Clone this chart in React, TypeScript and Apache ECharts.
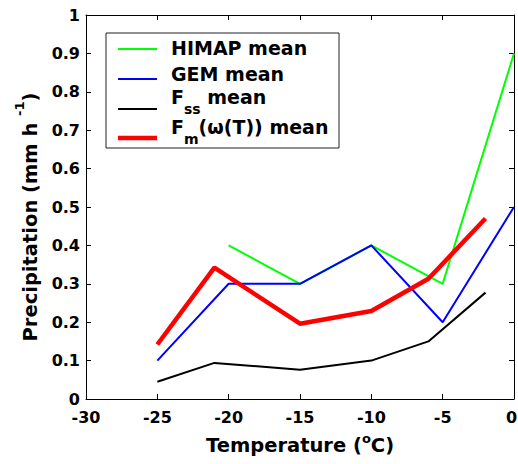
import React, { useEffect, useRef } from "react";
import * as echarts from "echarts";

// ---- data ----
const himapX = [-20, -15, -10, -5, 0];
const himapY = [0.4, 0.3, 0.4, 0.3, 0.9];
const gemX = [-25, -20, -15, -10, -5, 0];
const gemY = [0.1, 0.3, 0.3, 0.4, 0.2, 0.5];
const fssX = [-25, -21, -15, -10, -6, -2];
const fssY = [0.045, 0.094, 0.076, 0.1, 0.15, 0.277];
const fmX = [-25, -21, -15, -10, -6, -2];
const fmY = [0.142, 0.342, 0.196, 0.229, 0.313, 0.47];
const seriesNames = ["HIMAP mean", "GEM mean", "Fss mean", "Fm(ω(T)) mean"];
const legendLabels = [
  "{a|HIMAP mean}",
  "{a|GEM mean}",
  "{a|F}{sub|ss}{a| mean}",
  "{a|F}{sub|m}{a|(ω(T)) mean}",
];
const xTitle = "{a|Temperature (}{sup|o}{a|C)}";
const yTitle = "{a|Precipitation (mm h }{sup|-1}{a|)}";

const FONT = "DejaVu Sans";

const zip = (xs: number[], ys: number[]) => xs.map((x, i) => [x, ys[i]]);

export default function App() {
  const ref = useRef<HTMLDivElement>(null);
  useEffect(() => {
    if (!ref.current) return;
    const chart = echarts.init(ref.current, undefined, { renderer: "svg" });
    const axisLine = {
      show: true,
      onZero: false,
      lineStyle: { color: "#000", width: 1 },
    };
    const tick = { show: true, inside: true, length: 5, lineStyle: { color: "#000" } };
    const labelStyle = {
      fontFamily: FONT,
      fontWeight: "bold" as const,
      fontSize: 16,
      color: "#000",
    };
    const titleRich = {
      a: { fontFamily: FONT, fontWeight: "bold", fontSize: 19.5, color: "#000" },
    };
    const legendRich = {
      a: { fontFamily: FONT, fontWeight: "bold", fontSize: 19, color: "#000" },
      sub: {
        fontFamily: FONT,
        fontWeight: "bold",
        fontSize: 14,
        color: "#000",
        padding: [23, 0, 0, 0],
      },
    };
    const legendColors = ["#00FF00", "#0000FF", "#000000", "#FF0000"];
    const legendWidths = [2, 2, 2, 4.5];
    const legendLineY = [49, 79, 109, 138];
    const legendTextY = [48, 74, 97, 127];

    const graphics: any[] = [
      {
        type: "rect",
        shape: { x: 106, y: 33, width: 233, height: 115 },
        style: { fill: "#fff", stroke: "#222", lineWidth: 1 },
        z: 10,
      },
    ];
    legendLabels.forEach((lab, i) => {
      graphics.push({
        type: "line",
        shape: { x1: 118, y1: legendLineY[i], x2: 157, y2: legendLineY[i] },
        style: { stroke: legendColors[i], lineWidth: legendWidths[i] },
        z: 11,
      });
      graphics.push({
        type: "text",
        x: 171,
        y: legendTextY[i],
        style: {
          text: lab,
          rich: legendRich,
          verticalAlign: "middle",
          align: "left",
        },
        z: 11,
      });
    });

    chart.setOption({
      animation: false,
      backgroundColor: "#fff",
      grid: {
        left: 86,
        right: 4,
        top: 15,
        bottom: 65,
        containLabel: false,
        outerBoundsMode: "none",
      },
      xAxis: [
        {
          type: "value",
          min: -30,
          max: 0,
          interval: 5,
          position: "bottom",
          axisLine,
          axisTick: tick,
          splitLine: { show: false },
          axisLabel: {
            ...labelStyle,
            margin: 10,
            formatter: (v: number) => (v === 0 ? "{e|0}" : String(v)),
            rich: { e: { ...labelStyle, padding: [0, 5, 0, 0] } },
          },
          name: xTitle,
          nameLocation: "middle",
          nameGap: 33,
          nameTextStyle: {
            rich: {
              ...titleRich,
              sup: {
                fontFamily: FONT,
                fontWeight: "bold",
                fontSize: 13,
                color: "#000",
                padding: [0, 0, 14, 0],
              },
            },
          },
        },
        {
          type: "value",
          min: -30,
          max: 0,
          interval: 5,
          position: "top",
          axisLine,
          axisTick: tick,
          splitLine: { show: false },
          axisLabel: { show: false },
        },
      ],
      yAxis: [
        {
          type: "value",
          min: 0,
          max: 1,
          interval: 0.1,
          position: "left",
          axisLine,
          axisTick: tick,
          splitLine: { show: false },
          axisLabel: { ...labelStyle, margin: 6 },
          name: yTitle,
          nameLocation: "middle",
          nameGap: 34,
          nameTextStyle: {
            padding: [0, 20, 0, 0],
            rich: {
              ...titleRich,
              sup: {
                fontFamily: FONT,
                fontWeight: "bold",
                fontSize: 13,
                color: "#000",
                padding: [0, 0, 22, 0],
              },
            },
          },
        },
        {
          type: "value",
          min: 0,
          max: 1,
          interval: 0.1,
          position: "right",
          axisLine,
          axisTick: tick,
          splitLine: { show: false },
          axisLabel: { show: false },
        },
      ],
      series: [
        {
          name: seriesNames[0],
          type: "line",
          data: zip(himapX, himapY),
          showSymbol: false,
          lineStyle: { color: "#00FF00", width: 2 },
          itemStyle: { color: "#00FF00" },
        },
        {
          name: seriesNames[1],
          type: "line",
          data: zip(gemX, gemY),
          showSymbol: false,
          lineStyle: { color: "#0000FF", width: 2 },
          itemStyle: { color: "#0000FF" },
        },
        {
          name: seriesNames[2],
          type: "line",
          data: zip(fssX, fssY),
          showSymbol: false,
          lineStyle: { color: "#000000", width: 2 },
          itemStyle: { color: "#000000" },
        },
        {
          name: seriesNames[3],
          type: "line",
          data: zip(fmX, fmY),
          showSymbol: false,
          lineStyle: { color: "#FF0000", width: 4.5 },
          itemStyle: { color: "#FF0000" },
        },
      ],
      graphic: graphics,
    });
    return () => chart.dispose();
  }, []);
  return (
    <div
      ref={ref}
      style={{ position: "fixed", left: 0, top: 0, width: 518, height: 464 }}
    />
  );
}
